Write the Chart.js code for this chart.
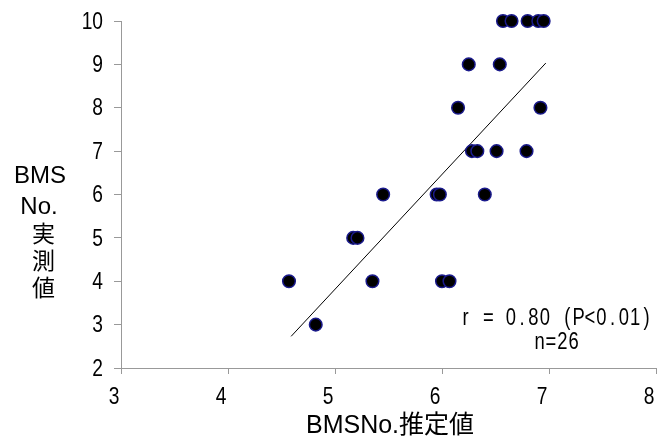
<!DOCTYPE html>
<html>
<head>
<meta charset="utf-8">
<script src="https://cdn.jsdelivr.net/npm/chart.js@4"></script>
<style>
  html, body { margin: 0; padding: 0; background: #fff; }
  #wrap { width: 668px; height: 436px; }
</style>
</head>
<body>
<div id="wrap"><canvas id="myChart" width="668" height="436"></canvas></div>
<script>
// estimated (x) vs measured (y) BMS No.
var estX = [6.57, 6.65, 6.80, 6.90, 6.95, 6.25, 6.54, 6.15, 6.92, 6.28, 6.33, 6.51, 6.79,
            5.45, 5.95, 5.98, 6.40, 5.17, 5.21, 4.57, 5.35, 6.00, 6.07, 4.82];
var obsY = [10, 10, 10, 10, 10, 9, 9, 8, 8, 7, 7, 7, 7,
            6, 6, 6, 6, 5, 5, 4, 4, 4, 4, 3];
var trendX = [4.59, 6.97];
var trendY = [2.73, 9.03];
var xTickLabels = ['3', '4', '5', '6', '7', '8'];
var yTickLabels = ['2', '3', '4', '5', '6', '7', '8', '9', '10'];
var yTitleLines = ['BMS', 'No.', '実', '測', '値'];
var xTitle = 'BMSNo.推定値';
var statLines = ['r = 0.80 (P<0.01)', 'n=26'];

var narrow = 0.8;

// draw text squeezed horizontally
function squeezed(ctx, text, x, y, align) {
    ctx.save();
    ctx.translate(x, y);
    ctx.scale(narrow, 1);
    ctx.textAlign = align;
    ctx.fillText(text, 0, 0);
    ctx.restore();
}

// fixed pitch text, like a half width gothic font
function monoText(ctx, text, left, y, pitch) {
    for (var i = 0; i < text.length; i++) {
        squeezed(ctx, text[i], left + pitch * i + pitch / 2, y, 'center');
    }
}

var labelPlugin = {
    id: 'labels',
    afterDraw: function (chart) {
        var ctx = chart.ctx;
        var xs = chart.scales.x, ys = chart.scales.y;
        ctx.save();
        ctx.fillStyle = '#000';
        ctx.textBaseline = 'middle';

        // tick labels
        ctx.font = '24px "Liberation Sans"';
        xTickLabels.forEach(function (t) {
            squeezed(ctx, t, xs.getPixelForValue(Number(t)) - 7, 397, 'center');
        });
        yTickLabels.forEach(function (t) {
            squeezed(ctx, t, 103, ys.getPixelForValue(Number(t)) + 1, 'right');
        });

        // y title, stacked horizontally
        ctx.textAlign = 'center';
        ctx.font = '24px "Liberation Sans"';
        ctx.fillText(yTitleLines[0], 40, 176);
        ctx.fillText(yTitleLines[1], 39, 207);
        ctx.font = '23px "Noto Sans CJK JP"';
        ctx.fillText(yTitleLines[2], 43.5, 233);
        ctx.fillText(yTitleLines[3], 43.5, 260);
        ctx.fillText(yTitleLines[4], 43.5, 287);

        // x title
        ctx.textBaseline = 'alphabetic';
        ctx.font = '25px "Liberation Sans", "Noto Sans CJK JP"';
        ctx.fillText(xTitle, 390, 433);

        // correlation text
        ctx.textBaseline = 'middle';
        ctx.font = '23px "Liberation Sans"';
        monoText(ctx, statLines[0], 460, 319, 11.3);
        monoText(ctx, statLines[1], 534, 343, 11.3);
        ctx.restore();
    }
};

var pts = estX.map(function (v, i) { return { x: v, y: obsY[i] }; });
var line = trendX.map(function (v, i) { return { x: v, y: trendY[i] }; });

var ctx = document.getElementById('myChart').getContext('2d');
var myChart = new Chart(ctx, {
    type: 'scatter',
    data: {
        datasets: [
            {
                data: line,
                showLine: true,
                borderColor: '#000',
                borderWidth: 1,
                pointRadius: 0,
                fill: false,
                order: 2
            },
            {
                data: pts,
                backgroundColor: '#000',
                borderColor: '#1a1a8c',
                borderWidth: 1.5,
                pointRadius: 6.3,
                clip: false,
                order: 1
            }
        ]
    },
    options: {
        responsive: false,
        animation: false,
        layout: { padding: { top: 21, right: 12, left: 0, bottom: 0 } },
        plugins: { legend: { display: false }, tooltip: { enabled: false } },
        scales: {
            x: {
                type: 'linear',
                min: 3,
                max: 8,
                ticks: { stepSize: 1, display: false },
                grid: { drawOnChartArea: false, drawTicks: true, tickLength: 6, color: '#999' },
                border: { color: '#999', width: 1 },
                afterFit: function (scale) { scale.height = 68; }
            },
            y: {
                type: 'linear',
                min: 2,
                max: 10,
                ticks: { stepSize: 1, display: false },
                grid: { drawOnChartArea: false, drawTicks: true, tickLength: 7, color: '#999' },
                border: { color: '#999', width: 1 },
                afterFit: function (scale) { scale.width = 121; }
            }
        }
    },
    plugins: [labelPlugin]
});
</script>
</body>
</html>
